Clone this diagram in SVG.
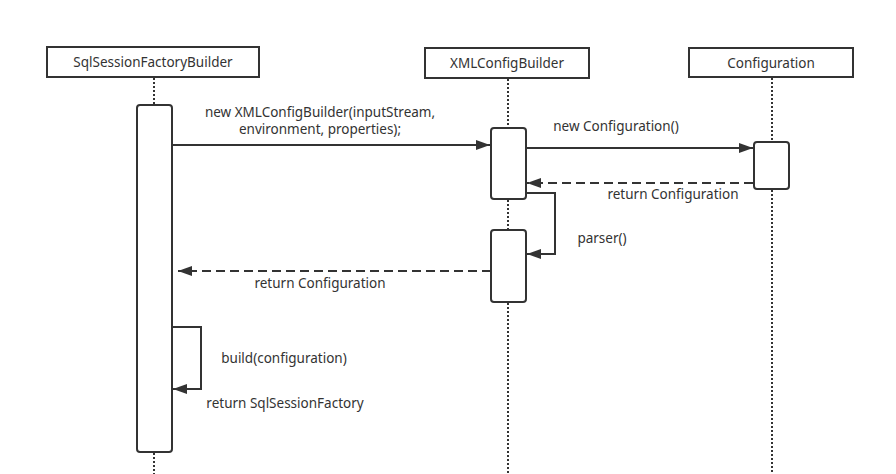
<svg xmlns="http://www.w3.org/2000/svg" width="896" height="474" viewBox="0 0 896 474">
<defs>
<style>
.hdr{fill:#fff;stroke:#333;stroke-width:2}
.act{fill:#fff;stroke:#333;stroke-width:2}
.life{stroke:#333;stroke-width:2;stroke-dasharray:2 2;fill:none}
.msg{stroke:#333;stroke-width:2;fill:none}
.ret{stroke:#333;stroke-width:2;fill:none;stroke-dasharray:9 5}
text{font-family:"Noto Sans","Liberation Sans",sans-serif;font-size:13.5px;fill:#333}
.c{text-anchor:middle}
</style>
<marker id="ah" viewBox="0 0 14 10" refX="14" refY="5" markerWidth="14" markerHeight="10" markerUnits="userSpaceOnUse" orient="auto">
<path d="M0,0 L14,5 L0,10 Z" fill="#333"/>
</marker>
</defs>
<rect width="896" height="474" fill="#fff"/>
<g id="lifelines">
<line class="life" x1="154" y1="78" x2="154" y2="105"/>
<line class="life" x1="154" y1="453" x2="154" y2="474"/>
<line class="life" x1="508" y1="79" x2="508" y2="128"/>
<line class="life" x1="508" y1="200" x2="508" y2="230"/>
<line class="life" x1="508" y1="303" x2="508" y2="474"/>
<line class="life" x1="772" y1="78" x2="772" y2="142"/>
<line class="life" x1="772" y1="190" x2="772" y2="474"/>
</g>
<g id="n-sqlsessionfactorybuilder">
<rect class="hdr" x="47" y="47" width="212" height="30"/>
<text class="c" x="153" y="67">SqlSessionFactoryBuilder</text>
</g>
<g id="n-xmlconfigbuilder">
<rect class="hdr" x="425" y="48" width="164" height="30"/>
<text class="c" x="507" y="68">XMLConfigBuilder</text>
</g>
<g id="n-configuration">
<rect class="hdr" x="689" y="48" width="164" height="29"/>
<text class="c" x="771" y="68">Configuration</text>
</g>
<g id="act-sqlsessionfactorybuilder">
<rect class="act" x="137" y="105" width="35" height="347" rx="3"/>
</g>
<g id="act-xmlconfigbuilder-1">
<rect class="act" x="491" y="128" width="35" height="71" rx="3"/>
</g>
<g id="act-xmlconfigbuilder-2">
<rect class="act" x="491" y="230" width="35" height="72" rx="3"/>
</g>
<g id="act-configuration">
<rect class="act" x="754" y="142" width="35" height="47" rx="3"/>
</g>
<g id="connectors">
<line class="msg" x1="172" y1="145" x2="490" y2="145" marker-end="url(#ah)"/>
<line class="msg" x1="526" y1="148" x2="753" y2="148" marker-end="url(#ah)"/>
<line class="ret" x1="753" y1="183" x2="527" y2="183" marker-end="url(#ah)"/>
<polyline class="msg" points="526,193 555,193 555,254 527,254" marker-end="url(#ah)"/>
<line class="ret" x1="491" y1="271" x2="178" y2="271" marker-end="url(#ah)"/>
<polyline class="msg" points="172,327 201,327 201,389 173,389" marker-end="url(#ah)"/>
</g>
<g id="labels">
<text class="c" x="320" y="117">new XMLConfigBuilder(inputStream,</text>
<text class="c" x="320" y="134">environment, properties);</text>
<text class="c" x="616" y="131">new Configuration()</text>
<text class="c" x="673" y="199">return Configuration</text>
<text class="c" x="602" y="243">parser()</text>
<text class="c" x="320" y="288">return Configuration</text>
<text class="c" x="284" y="363">build(configuration)</text>
<text class="c" x="285" y="408">return SqlSessionFactory</text>
</g>
</svg>
